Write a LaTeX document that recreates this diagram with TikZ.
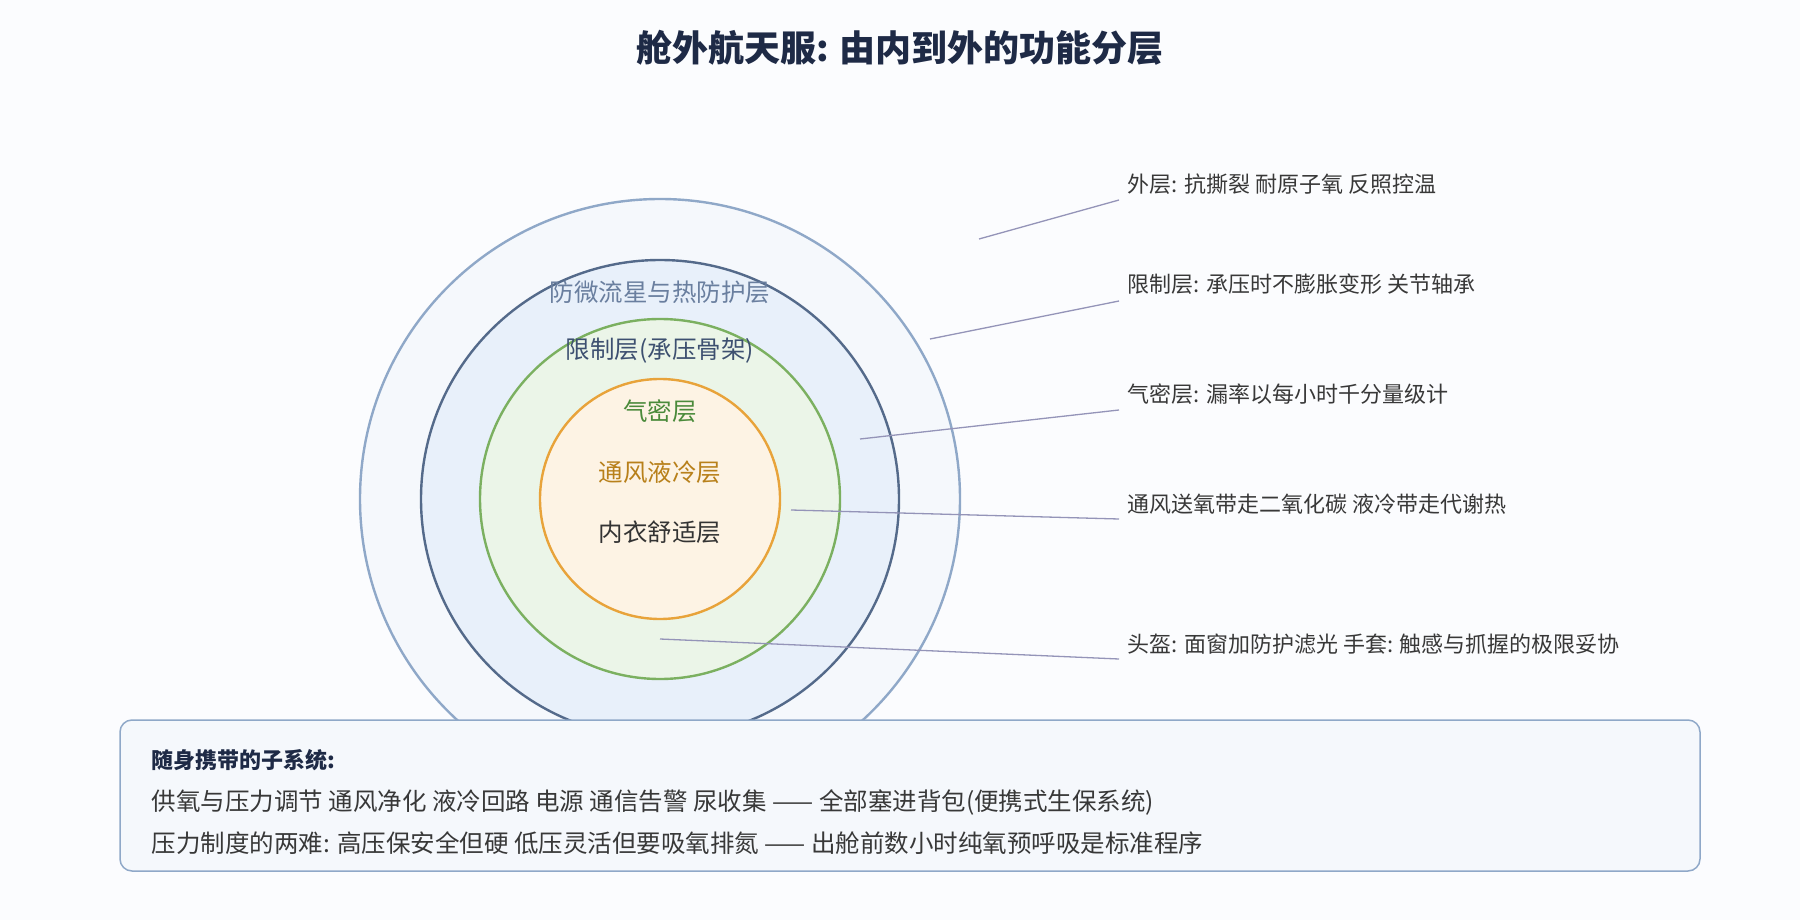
\documentclass[tikz,border=0pt]{standalone}
\usepackage{fontspec}
\newfontfamily\cjk{Noto Sans CJK SC}
\begin{document}
\begin{tikzpicture}[x=1pt,y=-1pt,font=\cjk,
  lbl/.style={font=\cjk\fontsize{22}{26}\selectfont,text=black!78},
  clbl/.style={font=\cjk\fontsize{24.5}{28}\selectfont},
  blbl/.style={font=\cjk\fontsize{24.5}{28}\selectfont,text=black!78},
  lead/.style={draw=gray!80!blue!70,line width=1.3pt},
  ring/.style={line width=2.4pt}]
\definecolor{bg}{HTML}{FBFCFE}
\fill[bg] (0,0) rectangle (1800,920);
\useasboundingbox (0,0) rectangle (1800,920);
\node[font=\cjk\bfseries\fontsize{36}{42}\selectfont,text={rgb,255:red,30;green,42;blue,70}] (title) at (900,48) {舱外航天服: 由内到外的功能分层};
\node[ring,circle,draw={rgb,255:red,143;green,168;blue,200},fill={rgb,255:red,245;green,248;blue,252},minimum size=600pt,inner sep=0] (c1) at (660,499) {};
\node[ring,circle,draw={rgb,255:red,84;green,106;blue,138},fill={rgb,255:red,232;green,240;blue,250},minimum size=478pt,inner sep=0] (c2) at (660,499) {};
\node[ring,circle,draw={rgb,255:red,123;green,176;blue,96},fill={rgb,255:red,235;green,245;blue,232},minimum size=360pt,inner sep=0] (c3) at (660,499) {};
\node[ring,circle,draw={rgb,255:red,232;green,163;blue,58},fill={rgb,255:red,253;green,243;blue,228},minimum size=240pt,inner sep=0] (c4) at (660,499) {};
\node[clbl,text={rgb,255:red,106;green,127;blue,159}] (t1) at (660,292) {防微流星与热防护层};
\node[clbl,text={rgb,255:red,61;green,80;blue,112}] (t2) at (660,351) {限制层(承压骨架)};
\node[clbl,text={rgb,255:red,74;green,138;blue,58}] (t3) at (660,411) {气密层};
\node[clbl,text={rgb,255:red,184;green,128;blue,26}] (t4) at (660,472) {通风液冷层};
\node[clbl,text=black!80] (t5) at (660,532) {内衣舒适层};
\coordinate (a1) at (979,239); \coordinate (a2) at (930,339); \coordinate (a3) at (860,439);
\coordinate (a4) at (791,510); \coordinate (a5) at (660,639);
\coordinate (e1) at (1119,200); \coordinate (e2) at (1119,301); \coordinate (e3) at (1119,410);
\coordinate (e4) at (1119,519); \coordinate (e5) at (1119,659);
\node[lbl,anchor=west] (n1) at (1124,184) {外层: 抗撕裂 耐原子氧 反照控温};
\node[lbl,anchor=west] (n2) at (1124,284) {限制层: 承压时不膨胀变形 关节轴承};
\node[lbl,anchor=west] (n3) at (1124,394) {气密层: 漏率以每小时千分量级计};
\node[lbl,anchor=west] (n4) at (1124,504) {通风送氧带走二氧化碳 液冷带走代谢热};
\node[lbl,anchor=west] (n5) at (1124,644) {头盔: 面窗加防护滤光 手套: 触感与抓握的极限妥协};
\draw[lead] (a1) -- (e1);
\draw[lead] (a2) -- (e2);
\draw[lead] (a3) -- (e3);
\draw[lead] (a4) -- (e4);
\draw[lead] (a5) -- (e5);
\draw[line width=1.5pt,draw={rgb,255:red,143;green,168;blue,200},fill={rgb,255:red,245;green,248;blue,252},rounded corners=12pt] (120,720) rectangle (1700,871);
\node[font=\cjk\bfseries\fontsize{22}{26}\selectfont,text={rgb,255:red,30;green,42;blue,70},anchor=west] (b0) at (148,760) {随身携带的子系统:};
\node[blbl,anchor=west] (b1) at (148,802) {供氧与压力调节 通风净化 液冷回路 电源 通信告警 尿收集 —— 全部塞进背包(便携式生保系统)};
\node[blbl,anchor=west] (b2) at (148,843) {压力制度的两难: 高压保安全但硬 低压灵活但要吸氧排氮 —— 出舱前数小时纯氧预呼吸是标准程序};
\end{tikzpicture}
\end{document}
